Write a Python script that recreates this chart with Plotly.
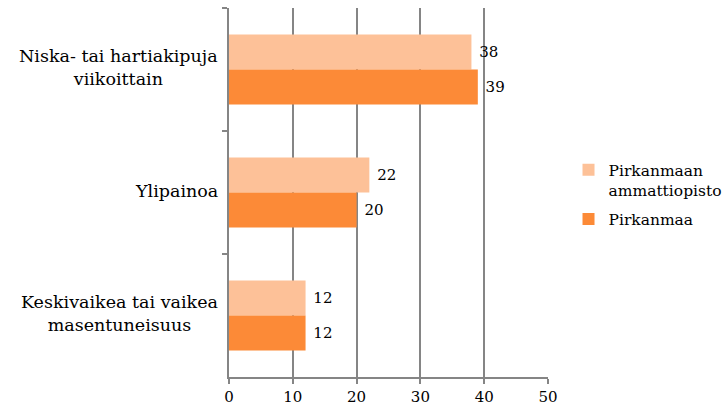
import plotly.graph_objects as go

categories = ["Niska- tai hartiakipuja<br>viikoittain", "Ylipainoa", "Keskivaikea tai vaikea<br>masentuneisuus"]
series_names = ["Pirkanmaan<br>ammattiopisto", "Pirkanmaa"]
ammattiopisto = [38, 22, 12]
pirkanmaa = [39, 20, 12]
x_ticks = [0, 10, 20, 30, 40, 50]

FONT = "DejaVu Serif"
colors = ["#FDC198", "#FC8A37"]

fig = go.Figure()
for i, (name, vals, col) in enumerate(zip(series_names, [ammattiopisto, pirkanmaa], colors)):
    fig.add_trace(go.Bar(
        y=categories, x=vals, name=name, orientation="h", legendgroup=f"g{i}",
        marker=dict(color=col, line=dict(width=0)),
        texttemplate="\u00a0%{x}", textposition="outside",
        textfont=dict(family=FONT, size=15, color="#000000"),
        cliponaxis=False,
    ))

for c in categories:
    fig.add_annotation(x=0, xref="paper", y=c, yref="y", text=c, showarrow=False,
                       xanchor="right", yanchor="middle", align="center", xshift=-9, yshift=2,
                       font=dict(family=FONT, size=17.5, color="#000000"))

fig.update_layout(
    width=727, height=414,
    margin=dict(l=229, r=179, t=8, b=37),
    paper_bgcolor="white", plot_bgcolor="white",
    barmode="group", bargap=0.43, bargroupgap=0,
    font=dict(family=FONT, size=15, color="#000000"),
    showlegend=True,
    legend=dict(xref="container", yref="container", x=0.782, y=0.63, xanchor="left", yanchor="top",
                font=dict(family=FONT, size=15.5, color="#000000"), valign="top",
                itemsizing="constant", tracegroupgap=6, bgcolor="rgba(0,0,0,0)"),
    xaxis=dict(range=[0, 50], tickvals=x_ticks, showgrid=True, gridcolor="#858585", gridwidth=1.5,
               showline=True, linecolor="#858585", linewidth=1.5, ticks="outside", ticklen=5,
               tickcolor="#858585", tickwidth=1.5, zeroline=False,
               tickfont=dict(family=FONT, size=15, color="#000000")),
    yaxis=dict(autorange="reversed", showticklabels=False, showline=True, linecolor="#858585",
               linewidth=1.5, ticks="outside", tickson="boundaries", ticklen=5,
               tickcolor="#858585", tickwidth=1.5, showgrid=False),
)

fig.write_html("out.html")
